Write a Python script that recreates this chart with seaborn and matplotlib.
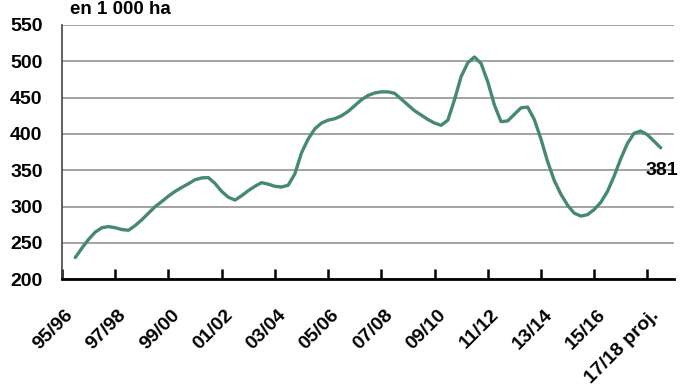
import numpy as np
import pandas as pd
import matplotlib
matplotlib.use("Agg")
import matplotlib.pyplot as plt
from matplotlib.transforms import ScaledTranslation
import seaborn as sns

# ---- data ----
seasons = ["95/96", "96/97", "97/98", "98/99", "99/00", "00/01", "01/02", "02/03",
           "03/04", "04/05", "05/06", "06/07", "07/08", "08/09", "09/10", "10/11",
           "11/12", "12/13", "13/14", "14/15", "15/16", "16/17", "17/18 proj."]
tick_labels = seasons[::2]
# readings of the curve at quarter-season steps (season index units)
sample_pos = np.arange(0, 22.01, 0.25)
area = [230, 243, 255, 265, 271, 272.5, 271, 268.5, 267.5, 274,
        282, 291, 300, 307, 314.5, 321, 326.5, 331.5, 337, 339.5,
        340, 332, 321, 313, 309, 315, 322, 328, 333, 331,
        328, 327, 329.5, 345, 374, 393, 407, 415, 419, 421,
        425, 431, 439, 447, 453, 456.5, 458, 458, 456, 448,
        440, 432, 426, 420, 415, 412, 419, 447, 479, 498,
        506, 497, 472, 440, 417, 418, 427, 436, 437, 420,
        393, 362, 336, 317, 302, 291, 287, 289, 296, 306,
        321, 342, 366, 387, 401, 404, 399, 390, 381]
last_value = 381
unit_label = "en 1 000 ha"

df = pd.DataFrame({"pos": sample_pos, "area": area})

sns.set_theme(style="white")
plt.rcParams["font.family"] = ["Liberation Sans", "DejaVu Sans"]
plt.rcParams["text.color"] = "black"
plt.rcParams["xtick.color"] = "black"
plt.rcParams["ytick.color"] = "black"

fig = plt.figure(figsize=(6.9, 3.88), dpi=100)
ax = fig.add_axes([62/690, 1-279.3/388, (674-62)/690, (279.3-25)/388])

sns.lineplot(data=df, x="pos", y="area", ax=ax, color="#468a6d", linewidth=2.4,
             solid_joinstyle="round", solid_capstyle="round", zorder=3)

ax.set_xlim(-0.5, 22.5)
ax.set_ylim(200, 550)
ax.set_yticks(range(200, 551, 50))
ax.yaxis.grid(True, color="#8a8a8a", linewidth=1.1)
ax.xaxis.grid(False)
ax.set_xlabel("")
ax.set_ylabel("")

# tick marks at category boundaries
ax.set_xticks(np.arange(-0.5, 22, 2))
ax.set_xticklabels([])
ax.tick_params(axis="x", which="major", direction="in", length=7, width=1.8,
               color="black", bottom=True)
# category labels at every second category centre, rotated
label_trans = ax.get_xaxis_transform() + ScaledTranslation(-10.5/100, -27/100,
                                                           fig.dpi_scale_trans)
for pos, lab in zip(range(0, len(seasons), 2), tick_labels):
    ax.text(pos, 0, lab, transform=label_trans, rotation=45, rotation_mode="anchor",
            ha="right", va="top", fontsize=14, fontweight="bold", clip_on=False)

ax.tick_params(axis="y", length=0, pad=14, labelsize=14)
for lbl in ax.get_yticklabels():
    lbl.set_fontweight("bold")

for s in ["top", "right"]:
    ax.spines[s].set_visible(False)
ax.spines["left"].set_color("#444444")
ax.spines["left"].set_linewidth(1.2)
ax.spines["bottom"].set_color("black")
ax.spines["bottom"].set_linewidth(2.0)
ax.spines["bottom"].set_zorder(4)

ax.annotate(str(last_value), xy=(22, last_value), xytext=(1, -23),
            textcoords="offset pixels", ha="center", va="center",
            fontsize=14, fontweight="bold", annotation_clip=False)

fig.text(70/690, 1-13.5/388, unit_label, ha="left", va="baseline",
         fontsize=13.5, fontweight="bold")

fig.savefig("out.png", dpi=100)
